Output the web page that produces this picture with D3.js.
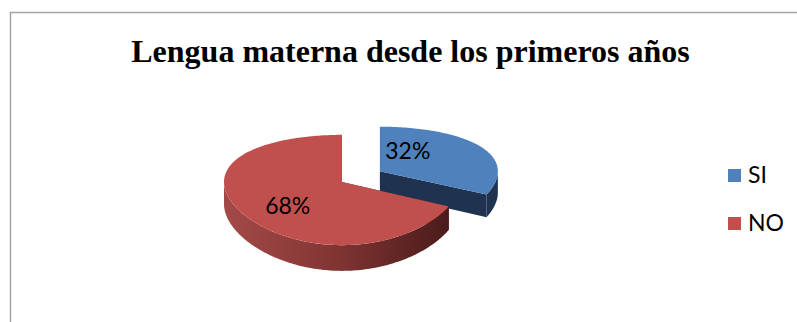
<!DOCTYPE html>
<html>
<head>
<meta charset="utf-8">
<script src="https://cdn.jsdelivr.net/npm/d3@7"></script>
<style>
  body { margin: 0; background: #fff; }
</style>
</head>
<body>
<div id="chart"></div>
<script>
// data
const categories = ["SI", "NO"];
const values = [32, 68];
const labels = ["32%", "68%"];
const topColors = ["#4f81bd", "#c0504d"];
const title = "Lengua materna desde los primeros años";

const W = 797, H = 322;

const svg = d3.select("#chart")
  .append("svg")
    .attr("width", W)
    .attr("height", H);

// chart frame (runs off right and bottom)
svg.append("rect")
  .attr("x", 10.5).attr("y", 12.5)
  .attr("width", 900).attr("height", 400)
  .attr("fill", "none")
  .attr("stroke", "#a3a3a3")
  .attr("stroke-width", 1.5);

svg.append("text")
  .attr("x", 410.5)
  .attr("y", 62)
  .attr("text-anchor", "middle")
  .style("font-family", "'Liberation Serif', 'Times New Roman', serif")
  .style("font-weight", "bold")
  .style("font-size", "32px")
  .text(title);

// 3d pie geometry: x plain, y with a bit of perspective
const cx = 342, cy = 182, rx = 118, ry = 54, D = 6.9, depth = 22;
const explode = [0.38, 0];   // SI slice pulled out

function proj(X, Z, h) {
  const s = D / (D - Z);
  return [cx + rx * X, cy + ry * Z * s + h * s];
}

const pie = d3.pie().sort(null).value(d => d)(values);

const defs = svg.append("defs");
const grad = defs.append("linearGradient")
  .attr("id", "redSide")
  .attr("gradientUnits", "userSpaceOnUse")
  .attr("x1", cx - rx).attr("x2", cx + rx * 0.91)
  .attr("y1", 0).attr("y2", 0);
grad.append("stop").attr("offset", 0).attr("stop-color", "#a34a48");
grad.append("stop").attr("offset", 0.45).attr("stop-color", "#853735");
grad.append("stop").attr("offset", 1).attr("stop-color", "#4a1b1b");

const sideFills = ["#1f3350", "url(#redSide)"];
const cutFills = ["#1f3350", "#5a2322"];

const line = d3.line();

function arcPts(a0, a1, ox, oz, h) {
  const n = Math.max(2, Math.ceil((a1 - a0) / 0.02));
  return d3.range(n + 1).map(i => {
    const a = a0 + (a1 - a0) * i / n;
    return proj(ox + Math.sin(a), oz - Math.cos(a), h);
  });
}

// draw back (exploded) slice first
const order = [0, 1];
const pieG = svg.append("g");

order.forEach(i => {
  const p = pie[i];
  const mid = (p.startAngle + p.endAngle) / 2;
  const ox = explode[i] * Math.sin(mid);
  const oz = -explode[i] * Math.cos(mid);
  const g = pieG.append("g");

  // cut faces
  [p.startAngle, p.endAngle].forEach(a => {
    const pts = [
      proj(ox, oz, 0),
      proj(ox + Math.sin(a), oz - Math.cos(a), 0),
      proj(ox + Math.sin(a), oz - Math.cos(a), depth),
      proj(ox, oz, depth)
    ];
    g.append("path")
      .attr("d", line(pts) + "Z")
      .attr("fill", cutFills[i]);
  });

  // outer side, front half only
  const s0 = Math.max(p.startAngle, Math.PI / 2);
  const s1 = Math.min(p.endAngle, Math.PI * 1.5);
  if (s1 > s0) {
    const pts = arcPts(s0, s1, ox, oz, 0)
      .concat(arcPts(s0, s1, ox, oz, depth).reverse());
    g.append("path")
      .attr("d", line(pts) + "Z")
      .attr("fill", sideFills[i]);
  }

  // top face
  const topPts = [proj(ox, oz, 0)].concat(arcPts(p.startAngle, p.endAngle, ox, oz, 0));
  g.append("path")
    .attr("d", line(topPts) + "Z")
    .attr("fill", topColors[i]);
});

// data labels
const labelPos = [{r: 0.49, da: -0.50}, {r: 0.62, da: -0.17}];
pie.forEach((p, i) => {
  const mid = (p.startAngle + p.endAngle) / 2;
  const ox = explode[i] * Math.sin(mid);
  const oz = -explode[i] * Math.cos(mid);
  const a = mid + labelPos[i].da;
  const pt = proj(ox + labelPos[i].r * Math.sin(a), oz - labelPos[i].r * Math.cos(a), 0);
  svg.append("text")
    .attr("x", pt[0])
    .attr("y", pt[1] + 8)
    .attr("text-anchor", "middle")
    .style("font-family", "Lato, 'Open Sans', sans-serif")
    .style("font-size", "23px")
    .attr("fill", "#000")
    .text(labels[i]);
});

// legend
const legY = d3.scalePoint().domain(categories).range([176, 224]);
const leg = svg.append("g")
  .selectAll("g")
  .data(categories)
  .join("g")
    .attr("transform", d => `translate(728,${legY(d)})`);
leg.append("rect")
  .attr("x", 0).attr("y", -7)
  .attr("width", 13).attr("height", 13)
  .attr("fill", (d, i) => topColors[i]);
leg.append("text")
  .attr("x", 20)
  .attr("y", 7)
  .style("font-family", "Lato, 'Open Sans', sans-serif")
  .style("font-size", "23px")
  .text(d => d);
</script>
</body>
</html>
